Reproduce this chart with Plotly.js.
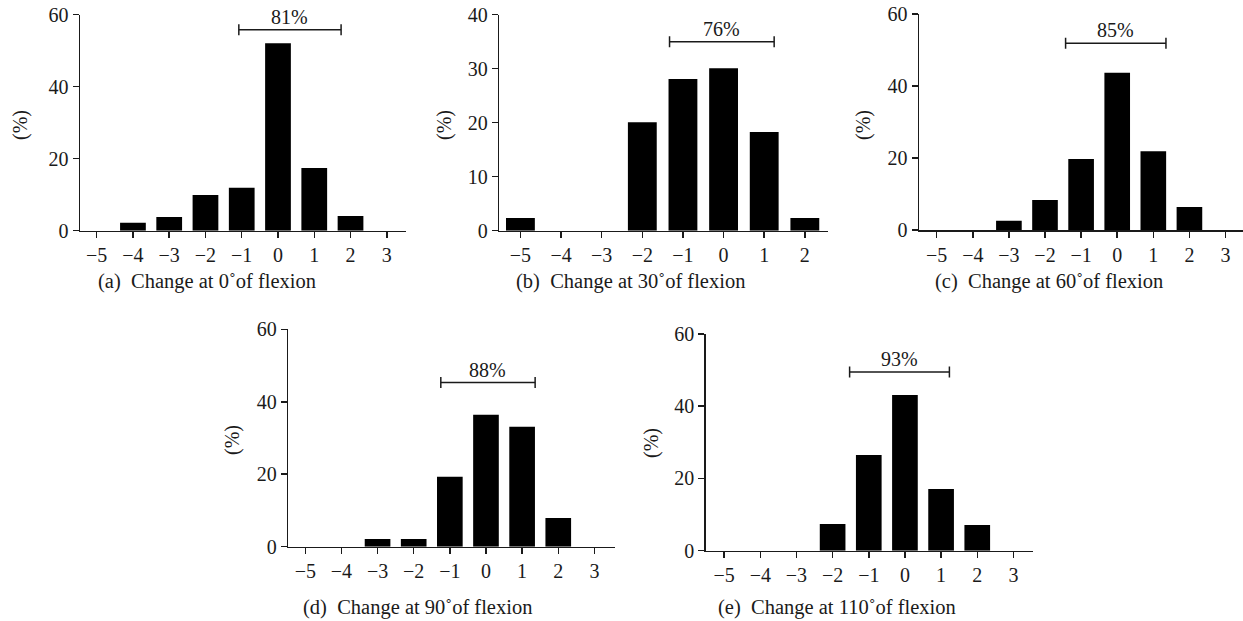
<!DOCTYPE html>
<html>
<head>
<meta charset="utf-8">
<script src="https://cdn.plot.ly/plotly-3.0.1.min.js"></script>
<style>
html,body{margin:0;padding:0;background:#fff;}
#chart{width:1243px;height:621px;}
</style>
</head>
<body>
<div id="chart"></div>
<script>
// ---- data ----
const levelsFull = [-5, -4, -3, -2, -1, 0, 1, 2, 3];
const labelsFull = ['\u22125', '\u22124', '\u22123', '\u22122', '\u22121', '0', '1', '2', '3'];
const levels30 = [-5, -4, -3, -2, -1, 0, 1, 2];
const labels30 = ['\u22125', '\u22124', '\u22123', '\u22122', '\u22121', '0', '1', '2'];

const pct0   = [0, 2.2, 3.8, 9.9, 11.9, 52.1, 17.4, 4.1, 0];
const pct30  = [2.35, 0, 0, 20.1, 28.1, 30.1, 18.3, 2.35];
const pct60  = [0, 0, 2.6, 8.3, 19.7, 43.7, 21.9, 6.4, 0];
const pct90  = [0, 0, 2.1, 2.1, 19.3, 36.4, 33.1, 7.9, 0];
const pct110 = [0, 0, 0, 7.4, 26.5, 43.1, 17.1, 7.1, 0];

const yTicks60 = [0, 20, 40, 60];
const yTicks40 = [0, 10, 20, 30, 40];

const captions = [
  '(a)  Change at 0\u02DAof flexion',
  '(b)  Change at 30\u02DAof flexion',
  '(c)  Change at 60\u02DAof flexion',
  '(d)  Change at 90\u02DAof flexion',
  '(e)  Change at 110\u02DAof flexion'
];
const bracketLo   = [-1.08, -1.33, -1.43, -1.25, -1.53];
const bracketHi   = [1.74, 1.245, 1.35, 1.36, 1.23];
const bracketY    = [55.8, 35.0, 51.9, 45.3, 49.5];
const bracketText = ['81%', '76%', '85%', '88%', '93%'];

// ---- layout geometry (pixels) ----
const W = 1243, H = 621;
const panels = [
  {x: levelsFull, y: pct0,   ticks: labelsFull, yt: yTicks60, xr: [-5.46, 3.53], yr: [0, 60], px: [80, 406],     py: [14.7, 230.7], cap: [207, 281], yl: [20, 125]},
  {x: levels30,   y: pct30,  ticks: labels30,   yt: yTicks40, xr: [-5.52, 2.57], yr: [0, 40], px: [499.3, 828],  py: [14.7, 230.7], cap: [630, 281], yl: [444, 125]},
  {x: levelsFull, y: pct60,  ticks: labelsFull, yt: yTicks60, xr: [-5.49, 3.47], yr: [0, 60], px: [919, 1242.5], py: [14, 230],     cap: [1049, 281], yl: [863, 125]},
  {x: levelsFull, y: pct90,  ticks: labelsFull, yt: yTicks60, xr: [-5.47, 3.57], yr: [0, 60], px: [288.3, 615],  py: [329.3, 546.7], cap: [417, 607], yl: [232, 440]},
  {x: levelsFull, y: pct110, ticks: labelsFull, yt: yTicks60, xr: [-5.51, 3.55], yr: [0, 60], px: [705.7, 1033.3], py: [334, 550.7], cap: [837, 607], yl: [652, 443]}
];

const FONT = 'Liberation Serif, Times New Roman, serif';
const INK = '#1a1a1a';
const FS = 20;
const data = [];
const layout = {
  width: W, height: H,
  margin: {l: 0, r: 0, t: 0, b: 0},
  paper_bgcolor: '#fff', plot_bgcolor: '#fff',
  showlegend: false,
  font: {family: FONT, size: FS, color: INK},
  annotations: [], shapes: []
};

panels.forEach((p, i) => {
  const n = i === 0 ? '' : String(i + 1);
  const xa = 'xaxis' + n, ya = 'yaxis' + n;
  const xr = 'x' + n, yr = 'y' + n;
  data.push({
    type: 'bar', x: p.x, y: p.y, xaxis: xr, yaxis: yr,
    marker: {color: '#000', line: {width: 0}}, width: 0.71, hoverinfo: 'skip'
  });
  layout[xa] = {
    domain: [p.px[0] / W, p.px[1] / W], range: p.xr, anchor: yr,
    tickmode: 'array', tickvals: p.x, ticktext: p.ticks,
    showgrid: false, zeroline: false, showline: true, linecolor: INK, linewidth: 1.5,
    ticks: 'outside', ticklen: 6, tickwidth: 1.5, tickcolor: INK,
    tickfont: {family: FONT, size: FS, color: INK}, fixedrange: true
  };
  layout[ya] = {
    domain: [1 - p.py[1] / H, 1 - p.py[0] / H], range: p.yr, anchor: xr,
    tickmode: 'array', tickvals: p.yt,
    showgrid: false, zeroline: false, showline: true, linecolor: INK, linewidth: 1.5,
    ticks: 'outside', ticklen: 6, tickwidth: 1.5, tickcolor: INK,
    tickfont: {family: FONT, size: FS, color: INK}, fixedrange: true
  };
  // bracket
  const ln = {color: INK, width: 1.5};
  layout.shapes.push({type: 'line', xref: xr, yref: yr, x0: bracketLo[i], x1: bracketHi[i], y0: bracketY[i], y1: bracketY[i], line: ln});
  [bracketLo[i], bracketHi[i]].forEach(bx => {
    layout.shapes.push({type: 'line', xref: xr, yref: yr, ysizemode: 'pixel', yanchor: bracketY[i],
      x0: bx, x1: bx, y0: -5.5, y1: 5.5, line: ln});
  });
  layout.annotations.push({
    xref: xr, yref: yr, x: (bracketLo[i] + bracketHi[i]) / 2, y: bracketY[i],
    text: bracketText[i], showarrow: false, yanchor: 'middle', yshift: 13,
    font: {family: FONT, size: FS, color: INK}
  });
  // y title
  layout.annotations.push({
    xref: 'paper', yref: 'paper', x: p.yl[0] / W, y: 1 - p.yl[1] / H,
    text: '(%)', textangle: -90, showarrow: false, xanchor: 'center', yanchor: 'middle',
    font: {family: FONT, size: FS, color: INK}
  });
  // caption
  layout.annotations.push({
    xref: 'paper', yref: 'paper', x: p.cap[0] / W, y: 1 - p.cap[1] / H,
    text: captions[i], showarrow: false, xanchor: 'center', yanchor: 'middle',
    font: {family: FONT, size: 20.5, color: INK}
  });
});

Plotly.newPlot('chart', data, layout, {displayModeBar: false, staticPlot: true});
</script>
</body>
</html>
